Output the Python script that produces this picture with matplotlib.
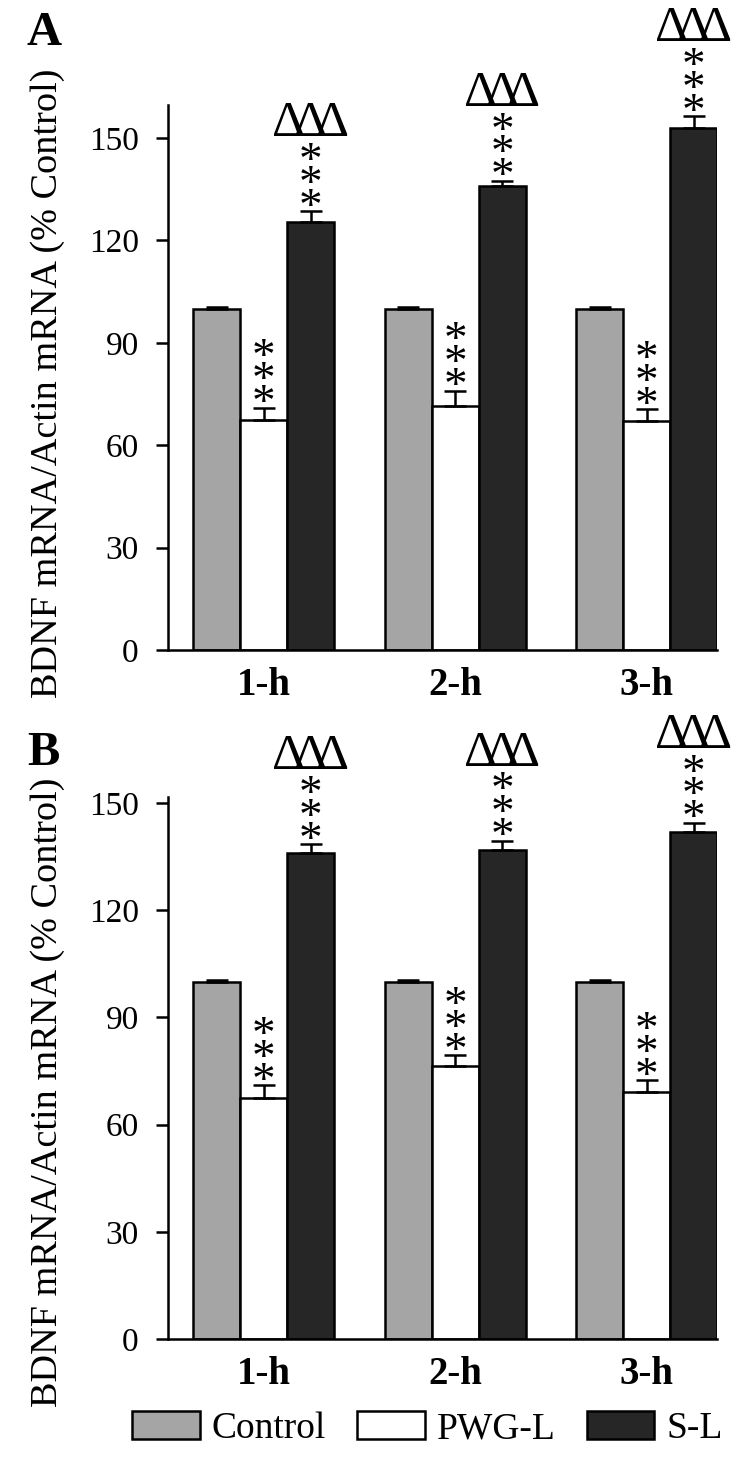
import numpy as np
import matplotlib.pyplot as plt
from matplotlib.patches import Patch

plt.rcParams["font.family"] = ["Liberation Serif", "DejaVu Serif"]

groups = ["1-h", "2-h", "3-h"]
series = ["Control", "PWG-L", "S-L"]
colors = ["#a5a5a5", "#ffffff", "#262626"]

# Panel A values (% control)
a_control = [100, 100, 100]
a_control_err = [0.6, 0.6, 0.6]
a_pwg = [67.5, 71.5, 67]
a_pwg_err = [3.5, 4.5, 3.5]
a_sl = [125.5, 136, 153]
a_sl_err = [3, 1.5, 3.5]

# Panel B values (% control)
b_control = [100, 100, 100]
b_control_err = [0.6, 0.6, 0.6]
b_pwg = [67.5, 76.5, 69]
b_pwg_err = [3.5, 3, 3.5]
b_sl = [136, 137, 142]
b_sl_err = [2.5, 2.5, 2.5]

yticks = [0, 30, 60, 90, 120, 150]

fig = plt.figure(figsize=(7.5, 14.6), dpi=100)
axA = fig.add_axes([0.224, 0.5548, 0.732, 0.3733])
axB = fig.add_axes([0.224, 0.0829, 0.732, 0.3712])

w = 0.245
x = np.arange(len(groups))


def stars(ax, xs, tops, with_delta):
    for xi, top in zip(xs, tops):
        for k in range(3):
            ax.annotate("*", (xi, top), xytext=(0, -6.2 + 16.5 * k),
                        textcoords="offset points", ha="center", va="baseline",
                        fontsize=34, zorder=5)
        if with_delta:
            for dx in (-15.6, 0, 15.6):
                ax.annotate("Δ", (xi, top), xytext=(dx, 54),
                            textcoords="offset points", ha="center", va="baseline",
                            fontsize=37, zorder=5)


def draw_panel(ax, vals, errs, ymax, letter, ly, label_y):
    for i, (v, e, c) in enumerate(zip(vals, errs, colors)):
        xs = x + (i - 1) * w
        ax.bar(xs, v, w, color=c, edgecolor="black", linewidth=1.8, zorder=2)
        ax.errorbar(xs, v, yerr=[np.zeros(len(v)), e], fmt="none", ecolor="black",
                    elinewidth=1.8, capsize=8, capthick=1.8, zorder=3)
    stars(ax, x, np.add(vals[1], errs[1]), False)
    stars(ax, x + w, np.add(vals[2], errs[2]), True)

    ax.set_xlim(-0.5, 2 + 1.5 * w)
    ax.set_ylim(0, ymax)
    ax.set_yticks(yticks)
    ax.tick_params(axis="y", direction="out", length=9, width=1.8, labelsize=24, pad=12)
    ax.set_xticks(x)
    ax.set_xticklabels(groups, fontsize=28, fontweight="bold")
    ax.tick_params(axis="x", length=0, pad=12)
    for s in ["top", "right"]:
        ax.spines[s].set_visible(False)
    for s in ["left", "bottom"]:
        ax.spines[s].set_linewidth(1.8)
    ax.set_ylabel("BDNF mRNA/Actin mRNA (% Control)", fontsize=27.5)
    ax.yaxis.set_label_coords(-0.188, label_y)
    fig.text(27 / 750, ly, letter, fontsize=35, fontweight="bold", va="baseline")


draw_panel(axA, [a_control, a_pwg, a_sl], [a_control_err, a_pwg_err, a_sl_err],
           159.7, "A", 1 - 45 / 1460, 0.49)
draw_panel(axB, [b_control, b_pwg, b_sl], [b_control_err, b_pwg_err, b_sl_err],
           151.7, "B", 1 - 765 / 1460, 0.455)

handles = [Patch(facecolor=c, edgecolor="black", linewidth=1.8) for c in colors]
fig.legend(handles, series, loc="center", bbox_to_anchor=(0.57, 0.0215), ncol=3,
           frameon=False, fontsize=27, handlelength=1.8, handleheight=0.75,
           handletextpad=0.32, columnspacing=0.83, borderaxespad=0, borderpad=0)

fig.savefig("out.png", dpi=100)
